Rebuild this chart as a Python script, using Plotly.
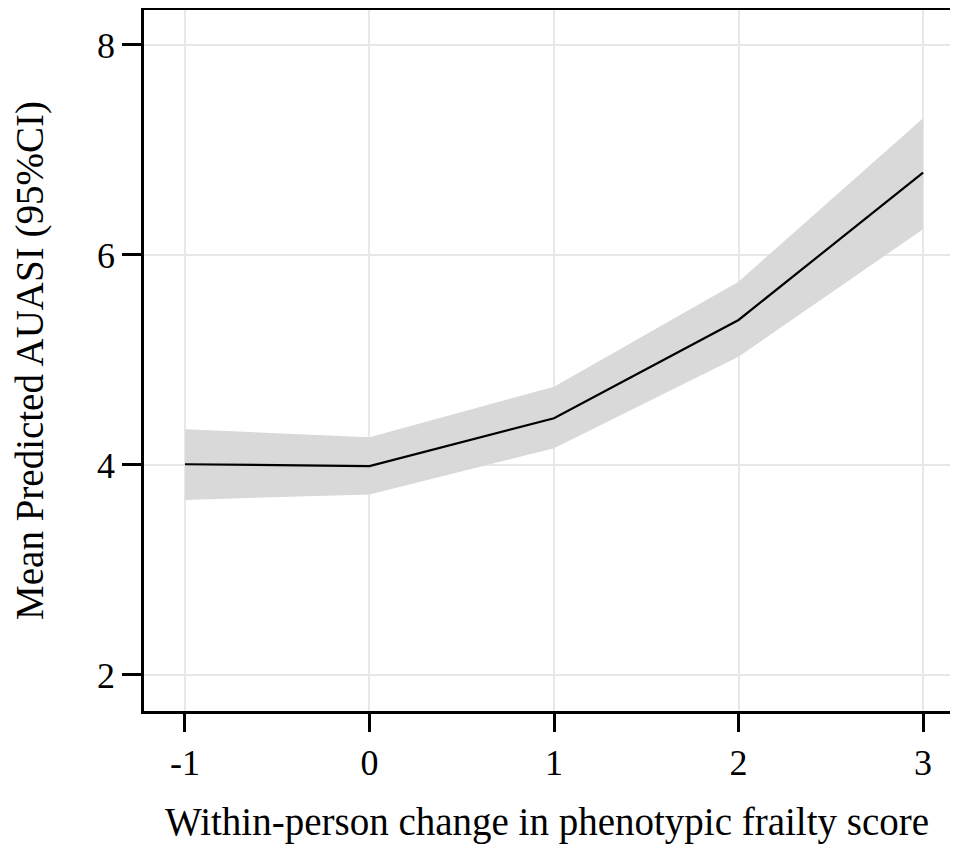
import plotly.graph_objects as go

x_vals = [-1, 0, 1, 2, 3]
mean_pred = [4.007, 3.99, 4.445, 5.381, 6.784]
ci_upper = [4.34, 4.264, 4.746, 5.746, 7.302]
ci_lower = [3.667, 3.72, 4.159, 5.031, 6.245]
x_ticks = [-1, 0, 1, 2, 3]
y_ticks = [2, 4, 6, 8]

FONT = "Liberation Serif"

fig = go.Figure()
fig.add_trace(go.Scatter(
    x=x_vals + x_vals[::-1],
    y=ci_upper + ci_lower[::-1],
    fill="toself", fillcolor="#d9d9d9",
    line=dict(width=0), mode="lines", hoverinfo="skip", showlegend=False))
fig.add_trace(go.Scatter(
    x=x_vals, y=mean_pred, mode="lines",
    line=dict(color="black", width=2.2), showlegend=False))

# page body has an ~8px margin; size/offsets keep the figure inside the window
fig.update_layout(
    width=942, height=836,
    margin=dict(l=136, r=0, t=2, b=133),
    paper_bgcolor="white", plot_bgcolor="white",
    font=dict(family=FONT, color="black", size=36),
    showlegend=False,
)
fig.update_xaxes(
    range=[-1.222, 3.146], tickvals=x_ticks, ticktext=[str(v) for v in x_ticks],
    showline=True, linecolor="black", linewidth=2.5, mirror=True,
    ticks="outside", ticklen=18, tickwidth=2.5, tickcolor="black",
    showgrid=True, gridcolor="#e8e8e8", gridwidth=1.5, zeroline=False,
    tickfont=dict(family=FONT, size=36),
    title=dict(text="Within-person change in phenotypic frailty score",
               font=dict(family=FONT, size=39), standoff=34),
)
fig.update_yaxes(
    range=[1.657, 8.333], tickvals=y_ticks, ticktext=[str(v) for v in y_ticks],
    showline=True, linecolor="black", linewidth=2.5,
    ticks="outside", ticklen=19, tickwidth=2.5, tickcolor="black",
    showgrid=True, gridcolor="#e8e8e8", gridwidth=1.5, zeroline=False,
    tickfont=dict(family=FONT, size=36),
    title=dict(text="Mean Predicted AUASI (95%CI)",
               font=dict(family=FONT, size=39), standoff=44),
)
fig.write_html("out.html")
